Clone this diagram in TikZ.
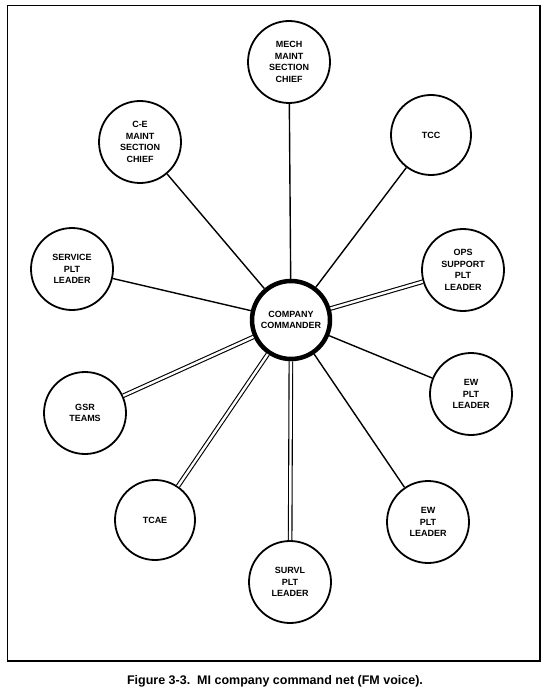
\documentclass[tikz,border=0pt]{standalone}
\usepackage{fontspec}
\setmainfont{Liberation Sans}
\usetikzlibrary{positioning}

\begin{document}
\begin{tikzpicture}[x=1pt,y=-1pt, every node/.style={align=center,font=\bfseries\fontsize{9}{11.5}\selectfont},
    station/.style={draw,circle,line width=1.8pt,fill=white,minimum size=82pt,inner sep=0pt},
    cmdr/.style={draw,circle,line width=4.5pt,fill=white,minimum size=78pt,inner sep=0pt},
    net/.style={line width=1.4pt},
    dnet/.style={line width=1.1pt,double,double distance=2.4pt}]
    \useasboundingbox (0,0) rectangle (550,695);
    \draw[line width=1.6pt] (7.5,5.5) rectangle (540,661);
    \node[station] (mech) at (289,62) {MECH\\MAINT\\SECTION\\CHIEF};
    \node[station,minimum size=80pt] (tcc) at (431,135) {TCC};
    \node[station] (ce) at (140,142) {C-E\\MAINT\\SECTION\\CHIEF};
    \node[station] (service) at (72,269) {SERVICE\\PLT\\LEADER};
    \node[station] (ops) at (463,270) {OPS\\SUPPORT\\PLT\\LEADER};
    \node[cmdr] (cc) at (291,320) {COMPANY\\COMMANDER};
    \node[station] (ewa) at (471,394) {EW\\PLT\\LEADER};
    \node[station] (gsr) at (85,413) {GSR\\TEAMS};
    \node[station,minimum size=80pt] (tcae) at (155,520) {TCAE};
    \node[station] (ewb) at (428,522) {EW\\PLT\\LEADER};
    \node[station] (survl) at (290,582) {SURVL\\PLT\\LEADER};
    % single lines
    \draw[net] (cc) -- (mech);
    \draw[net] (cc) -- (tcc);
    \draw[net] (cc) -- (ce);
    \draw[net] (cc) -- (service);
    \draw[net] (cc) -- (ewa);
    \draw[net] (cc) -- (ewb);
    % double lines
    \draw[dnet] (cc) -- (ops);
    \draw[dnet] (cc) -- (gsr);
    \draw[dnet] (cc) -- (tcae);
    \draw[dnet] (cc) -- (survl);
    \node[font=\bfseries\fontsize{12.5}{14}\selectfont] (cap) at (275,681)
      {Figure 3-3.\ \ MI company command net (FM voice).};
\end{tikzpicture}
\end{document}
